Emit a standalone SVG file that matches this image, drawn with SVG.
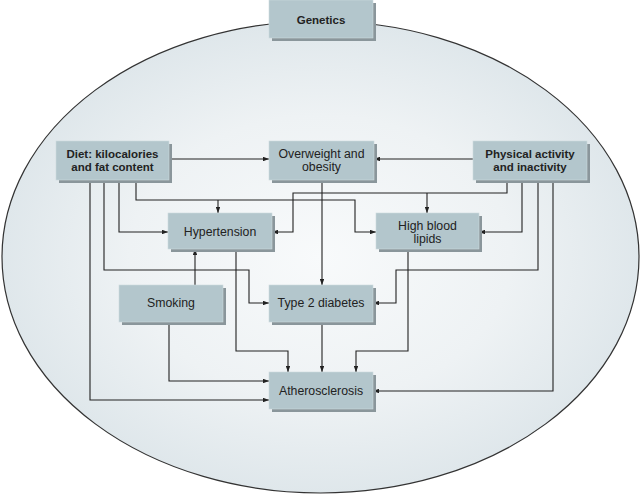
<svg xmlns="http://www.w3.org/2000/svg" width="641" height="496" viewBox="0 0 641 496">
<defs>
<radialGradient id="bg" cx="50%" cy="50%" r="50%">
<stop offset="0" stop-color="#f8fafb"/>
<stop offset="0.6" stop-color="#eef2f4"/>
<stop offset="1" stop-color="#dfe7eb"/>
</radialGradient>
<marker id="ah" viewBox="0 0 8 6" refX="8" refY="3" markerWidth="6" markerHeight="4.5" orient="auto" markerUnits="userSpaceOnUse">
<path d="M0,0 L8,3 L0,6 Z" fill="#222"/>
</marker>
<style>
.box{fill:#b3c6cc;stroke:#cdd9dd;stroke-width:0.6}
.sh{fill:#8a969b}
.t{font-family:"Liberation Sans",Arial,sans-serif;font-size:12.3px;fill:#222;text-anchor:middle}
.b{font-weight:bold;font-size:11.5px}
.c{fill:none;stroke:#222;stroke-width:1.1;marker-end:url(#ah)}
</style>
</defs>
<rect width="641" height="496" fill="#ffffff"/>
<ellipse cx="320.5" cy="257" rx="318.5" ry="236" fill="url(#bg)" stroke="#333" stroke-width="1.2"/>

<g id="connectors">
<path class="c" d="M169,159 H269"/>
<path class="c" d="M473,159 H374"/>
<path class="c" d="M90,180 V400 H269"/>
<path class="c" d="M104,180 V270 H249 V303 H269"/>
<path class="c" d="M119,180 V232 H168"/>
<path class="c" d="M136,180 V200 H355 V232 H376"/>
<path class="c" d="M218,200 V213"/>
<path class="c" d="M507,180 V193 H293 V232 H272"/>
<path class="c" d="M427,193 V213"/>
<path class="c" d="M522,180 V232 H479"/>
<path class="c" d="M538,180 V270 H396 V303 H373"/>
<path class="c" d="M553,180 V391 H373"/>
<path class="c" d="M322,180 V285"/>
<path class="c" d="M195,285 V249"/>
<path class="c" d="M169,322 V381 H269"/>
<path class="c" d="M236,249 V351 H288 V372"/>
<path class="c" d="M322,322 V372"/>
<path class="c" d="M408,249 V351 H356 V372"/>
</g>

<g id="genetics">
<rect class="sh" x="272" y="3" width="104" height="38"/>
<rect class="box" x="269" y="0" width="104" height="38"/>
<text class="t b" x="321" y="24">Genetics</text>
</g>
<g id="diet">
<rect class="sh" x="59" y="144" width="113" height="39"/>
<rect class="box" x="56" y="141" width="113" height="39"/>
<text class="t b" x="112.5" y="158">Diet: kilocalories</text>
<text class="t b" x="112.5" y="171">and fat content</text>
</g>
<g id="overweight">
<rect class="sh" x="272" y="144" width="105" height="39"/>
<rect class="box" x="269" y="141" width="105" height="39"/>
<text class="t" x="321.5" y="158">Overweight and</text>
<text class="t" x="321.5" y="171">obesity</text>
</g>
<g id="physical">
<rect class="sh" x="476" y="144" width="114" height="39"/>
<rect class="box" x="473" y="141" width="114" height="39"/>
<text class="t b" x="530" y="158">Physical activity</text>
<text class="t b" x="530" y="171">and inactivity</text>
</g>
<g id="hypertension">
<rect class="sh" x="171" y="216" width="104" height="36"/>
<rect class="box" x="168" y="213" width="104" height="36"/>
<text class="t" x="220" y="236">Hypertension</text>
</g>
<g id="lipids">
<rect class="sh" x="379" y="216" width="103" height="36"/>
<rect class="box" x="376" y="213" width="103" height="36"/>
<text class="t" x="427.5" y="230">High blood</text>
<text class="t" x="427.5" y="243">lipids</text>
</g>
<g id="smoking">
<rect class="sh" x="122" y="288" width="104" height="37"/>
<rect class="box" x="119" y="285" width="104" height="37"/>
<text class="t" x="171" y="307">Smoking</text>
</g>
<g id="diabetes">
<rect class="sh" x="272" y="288" width="104" height="37"/>
<rect class="box" x="269" y="285" width="104" height="37"/>
<text class="t" x="321" y="307">Type 2 diabetes</text>
</g>
<g id="atherosclerosis">
<rect class="sh" x="272" y="375" width="104" height="37"/>
<rect class="box" x="269" y="372" width="104" height="37"/>
<text class="t" x="321" y="395">Atherosclerosis</text>
</g>
</svg>
